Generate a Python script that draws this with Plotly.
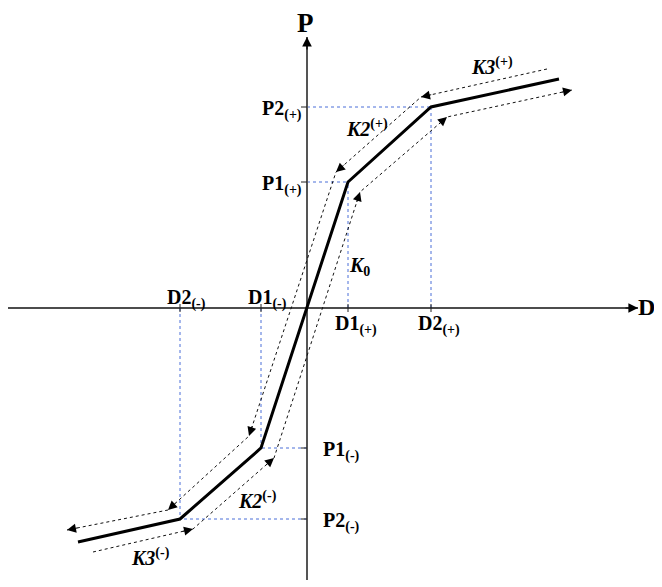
import math
import plotly.graph_objects as go

# ---------------- data (schematic units) ----------------
break_D = [-127, -46, 41, 124]          # D2(-), D1(-), D1(+), D2(+)
break_P = [-211, -140, 126, 201]        # P2(-), P1(-), P1(+), P2(+)
end_D = [-229, 252]
end_P = [-234, 229]
curve_D = [end_D[0]] + break_D + [end_D[1]]
curve_P = [end_P[0]] + break_P + [end_P[1]]

D_labels = ["D2", "D1", "D1", "D2"]
D_signs = ["(-)", "(-)", "(+)", "(+)"]
P_labels = ["P2", "P1", "P1", "P2"]

unload_D = [240, 114, 29, -58, -139, -240]
unload_P = [239, 211, 136, -128, -202, -222]
load_D = [-214, -114, -33, 53, 140, 265]
load_P = [-244, -221, -150, 116, 191, 218]

axis_D = [-299, 331]
axis_P = [-272, 271]

FONT = "Liberation Serif"
fig = go.Figure()

# guide lines (blue dotted)
gx, gy = [], []
for d, p in zip(break_D, break_P):
    gx += [0, d, None, d, d, None]
    gy += [p, p, None, 0, p, None]
fig.add_trace(go.Scatter(x=gx, y=gy, mode="lines",
                         line=dict(color="#4a6fd8", width=1, dash="dot"),
                         hoverinfo="skip"))

# axes
fig.add_trace(go.Scatter(x=axis_D, y=[0, 0], mode="lines",
                         line=dict(color="#111111", width=1.4), hoverinfo="skip"))
fig.add_trace(go.Scatter(x=[0, 0], y=axis_P, mode="lines",
                         line=dict(color="#555555", width=2), hoverinfo="skip"))

# ticks
tx, ty = [], []
for d in break_D:
    tx += [d, d, None]
    ty += [-4, 4, None]
for p in break_P:
    tx += [-6, 0, None]
    ty += [p, p, None]
fig.add_trace(go.Scatter(x=tx, y=ty, mode="lines",
                         line=dict(color="#222222", width=1), hoverinfo="skip"))

# dotted loading / unloading paths
for xs, ys in [(unload_D, unload_P), (load_D, load_P)]:
    fig.add_trace(go.Scatter(x=xs, y=ys, mode="lines",
                             line=dict(color="#111111", width=1, dash="dot"),
                             hoverinfo="skip"))

# main backbone curve
fig.add_trace(go.Scatter(x=curve_D, y=curve_P, mode="lines",
                         line=dict(color="black", width=3), hoverinfo="skip"))

annotations = []


def arrow(x, y, xp, yp, back=12, width=1, size=1.8):
    L = math.hypot(x - xp, y - yp)
    ux, uy = (x - xp) / L, (y - yp) / L
    annotations.append(dict(x=x, y=y, ax=x - ux * back, ay=y - uy * back,
                            xref="x", yref="y", axref="x", ayref="y",
                            showarrow=True, arrowhead=2, arrowsize=size,
                            arrowwidth=width, arrowcolor="black", text=""))


for xs, ys in [(unload_D, unload_P), (load_D, load_P)]:
    for i in range(1, len(xs)):
        arrow(xs[i], ys[i], xs[i - 1], ys[i - 1])

arrow(axis_D[1], 0, axis_D[0], 0, back=14, width=1.2, size=1.6)
arrow(0, axis_P[1], 0, axis_P[0], back=14, width=1.2, size=1.6)


def label(x, y, text, size=20, xanchor="left", yanchor="middle"):
    annotations.append(dict(x=x, y=y, xref="x", yref="y", text=text,
                            showarrow=False, xanchor=xanchor, yanchor=yanchor,
                            font=dict(family=FONT, size=size, color="black")))


label(-2, 285, "<b>P</b>", size=27, xanchor="center")
label(339, 1, "<b>D</b>", size=24, xanchor="center")

for d, name, sign in zip(break_D, D_labels, D_signs):
    y = 9 if d < 0 else -17
    label(d - 15, y, f"<b>{name}<sub>{sign}</sub></b>")

for p, name, d in zip(break_P, P_labels, break_D):
    if p > 0:
        label(-3, p - 3, f"<b>{name}<sub>(+)</sub></b>", xanchor="right")
    else:
        label(14, p - 3, f"<b>{name}<sub>(-)</sub></b>")

label(40, 42, "<b><i>K</i><sub>0</sub></b>")
label(37, 180, "<b><i>K2</i><sup>(+)</sup></b>")
label(162, 242, "<b><i>K3</i><sup>(+)</sup></b>")
label(-71, -192, "<b><i>K2</i><sup>(-)</sup></b>")
label(-178, -249, "<b><i>K3</i><sup>(-)</sup></b>")

# page body has an 8px margin; shift the ranges so the drawing lands in place
fig.update_layout(
    width=662, height=587,
    margin=dict(l=0, r=0, t=0, b=0),
    paper_bgcolor="white", plot_bgcolor="white",
    showlegend=False,
    xaxis=dict(range=[-299, 363], visible=False, fixedrange=True),
    yaxis=dict(range=[-287, 300], visible=False, fixedrange=True),
    annotations=annotations,
)

fig.write_html("out.html")
